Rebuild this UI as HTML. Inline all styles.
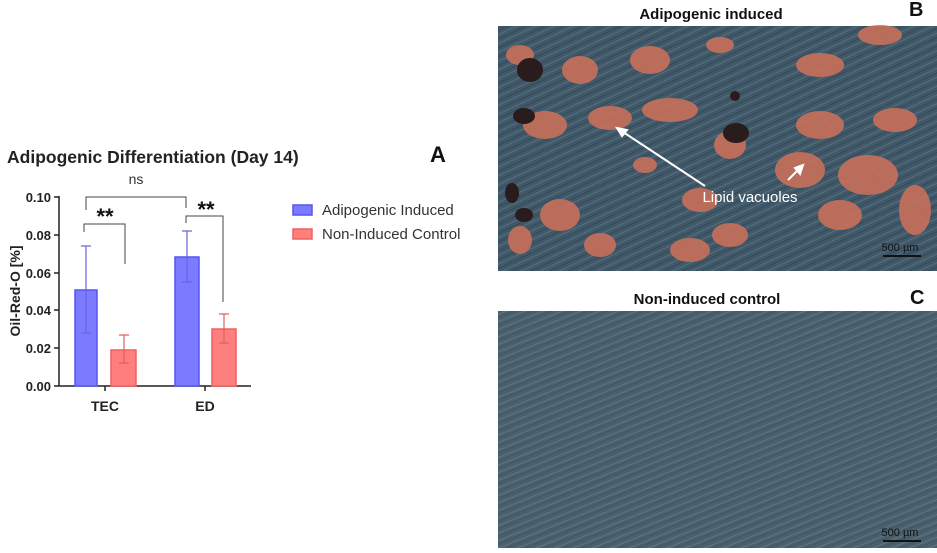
<!DOCTYPE html>
<html><head><style>
body{margin:0;background:#fff;width:937px;height:548px;overflow:hidden;font-family:"Liberation Sans",Arial,sans-serif}
</style></head><body>
<svg width="937" height="548" xmlns="http://www.w3.org/2000/svg" font-family="Liberation Sans, Arial, sans-serif">
<defs>
<pattern id="fib" width="14" height="8" patternUnits="userSpaceOnUse" patternTransform="rotate(-25)">
<rect width="14" height="8" fill="#405868"/>
<line x1="0" y1="2" x2="14" y2="2" stroke="#56707f" stroke-width="1"/>
<line x1="0" y1="6" x2="14" y2="6" stroke="#34495a" stroke-width="1"/>
</pattern>
<pattern id="fib2" width="16" height="7" patternUnits="userSpaceOnUse" patternTransform="rotate(-22)">
<rect width="16" height="7" fill="#4a606e"/>
<line x1="0" y1="2" x2="16" y2="2" stroke="#5f7583" stroke-width="1"/>
<line x1="0" y1="5" x2="16" y2="5" stroke="#405664" stroke-width="1"/>
</pattern>
</defs>
<!-- Chart -->
<text x="7" y="163" font-size="17.5" font-weight="bold" fill="#222">Adipogenic Differentiation (Day 14)</text>
<text x="430" y="162" font-size="22" font-weight="bold" fill="#111">A</text>
<g stroke="#222" stroke-width="1.5" fill="none">
<line x1="59" y1="196" x2="59" y2="386"/>
<line x1="59" y1="386" x2="251" y2="386"/>
<line x1="54" y1="197" x2="59" y2="197"/><line x1="54" y1="235" x2="59" y2="235"/><line x1="54" y1="273" x2="59" y2="273"/><line x1="54" y1="310" x2="59" y2="310"/><line x1="54" y1="348" x2="59" y2="348"/><line x1="54" y1="386" x2="59" y2="386"/>
<line x1="105" y1="386" x2="105" y2="391"/><line x1="205" y1="386" x2="205" y2="391"/>
</g>
<g font-size="13" font-weight="bold" fill="#222" text-anchor="end">
<text x="51" y="202">0.10</text><text x="51" y="240">0.08</text><text x="51" y="278">0.06</text><text x="51" y="315">0.04</text><text x="51" y="353">0.02</text><text x="51" y="391">0.00</text>
</g>
<text transform="translate(20,291) rotate(-90)" font-size="14" font-weight="bold" fill="#222" text-anchor="middle">Oil-Red-O [%]</text>
<text x="105" y="411" font-size="14" font-weight="bold" fill="#222" text-anchor="middle">TEC</text>
<text x="205" y="411" font-size="14" font-weight="bold" fill="#222" text-anchor="middle">ED</text>
<!-- bars -->
<rect x="75" y="290" width="22" height="96" fill="#7b7bff" stroke="#5555ee" stroke-width="1.5"/>
<rect x="111" y="350" width="25" height="36" fill="#ff7e7e" stroke="#f06060" stroke-width="1.5"/>
<rect x="175" y="257" width="24" height="129" fill="#7b7bff" stroke="#5555ee" stroke-width="1.5"/>
<rect x="212" y="329" width="24" height="57" fill="#ff7e7e" stroke="#f06060" stroke-width="1.5"/>
<g stroke="#6666dd" stroke-width="1.2" fill="none">
<path d="M86 246V333M81 246H91M81 333H91"/><path d="M187 231V282M182 231H192M182 282H192"/>
</g>
<g stroke="#e06060" stroke-width="1.2" fill="none">
<path d="M124 335V363M119 335H129M119 363H129"/><path d="M224 314V343M219 314H229M219 343H229"/>
</g>
<!-- brackets -->
<g stroke="#444" stroke-width="1" fill="none">
<path d="M86 210V197H186V208"/><path d="M84 232V224H125V264"/><path d="M186 223V216H223V302"/>
</g>
<text x="136" y="184" font-size="14" fill="#333" text-anchor="middle">ns</text>
<text x="105" y="224" font-size="22" font-weight="bold" fill="#111" text-anchor="middle">**</text>
<text x="206" y="217" font-size="22" font-weight="bold" fill="#111" text-anchor="middle">**</text>
<!-- legend -->
<rect x="293" y="205" width="19" height="10" fill="#7b7bff" stroke="#5555ee" stroke-width="1.5"/>
<rect x="293" y="229" width="19" height="10" fill="#ff7e7e" stroke="#f06060" stroke-width="1.5"/>
<text x="322" y="215" font-size="15" fill="#333">Adipogenic Induced</text>
<text x="322" y="239" font-size="15" fill="#333">Non-Induced Control</text>

<!-- Image B -->
<text x="711" y="19" font-size="15" font-weight="bold" fill="#111" text-anchor="middle">Adipogenic induced</text>
<text x="909" y="16" font-size="20" font-weight="bold" fill="#111">B</text>
<rect x="498" y="26" width="439" height="245" fill="url(#fib)"/>
<g fill="#c8705a" opacity="0.9">
<ellipse cx="520" cy="55" rx="14" ry="10"/><ellipse cx="580" cy="70" rx="18" ry="14"/><ellipse cx="545" cy="125" rx="22" ry="14"/>
<ellipse cx="610" cy="118" rx="22" ry="12"/><ellipse cx="670" cy="110" rx="28" ry="12"/><ellipse cx="650" cy="60" rx="20" ry="14"/>
<ellipse cx="720" cy="45" rx="14" ry="8"/><ellipse cx="820" cy="65" rx="24" ry="12"/><ellipse cx="880" cy="35" rx="22" ry="10"/>
<ellipse cx="820" cy="125" rx="24" ry="14"/><ellipse cx="895" cy="120" rx="22" ry="12"/><ellipse cx="868" cy="175" rx="30" ry="20"/>
<ellipse cx="800" cy="170" rx="25" ry="18"/><ellipse cx="840" cy="215" rx="22" ry="15"/><ellipse cx="700" cy="200" rx="18" ry="12"/>
<ellipse cx="730" cy="235" rx="18" ry="12"/><ellipse cx="690" cy="250" rx="20" ry="12"/><ellipse cx="560" cy="215" rx="20" ry="16"/>
<ellipse cx="645" cy="165" rx="12" ry="8"/><ellipse cx="730" cy="145" rx="16" ry="14"/><ellipse cx="915" cy="210" rx="16" ry="25"/>
<ellipse cx="600" cy="245" rx="16" ry="12"/><ellipse cx="520" cy="240" rx="12" ry="14"/>
</g>
<g fill="#2a1c1c">
<ellipse cx="530" cy="70" rx="13" ry="12"/><ellipse cx="524" cy="116" rx="11" ry="8"/><ellipse cx="736" cy="133" rx="13" ry="10"/>
<ellipse cx="512" cy="193" rx="7" ry="10"/><ellipse cx="524" cy="215" rx="9" ry="7"/><ellipse cx="735" cy="96" rx="5" ry="5"/>
</g>
<g stroke="#fff" stroke-width="2" fill="#fff">
<line x1="705" y1="186" x2="620" y2="130"/><polygon points="617,128 627,130 622,136"/>
<line x1="788" y1="180" x2="800" y2="168"/><polygon points="803,165 800,174 795,168"/>
</g>
<text x="750" y="202" font-size="15" fill="#fff" text-anchor="middle">Lipid vacuoles</text>
<text x="900" y="251" font-size="11" fill="#111" text-anchor="middle">500 µm</text>
<line x1="883" y1="256" x2="921" y2="256" stroke="#111" stroke-width="2"/>

<!-- Image C -->
<text x="707" y="304" font-size="15" font-weight="bold" fill="#111" text-anchor="middle">Non-induced control</text>
<text x="910" y="304" font-size="20" font-weight="bold" fill="#111">C</text>
<rect x="498" y="311" width="439" height="237" fill="url(#fib2)"/>
<text x="900" y="536" font-size="11" fill="#111" text-anchor="middle">500 µm</text>
<line x1="883" y1="541" x2="921" y2="541" stroke="#111" stroke-width="2"/>
</svg>
</body></html>
